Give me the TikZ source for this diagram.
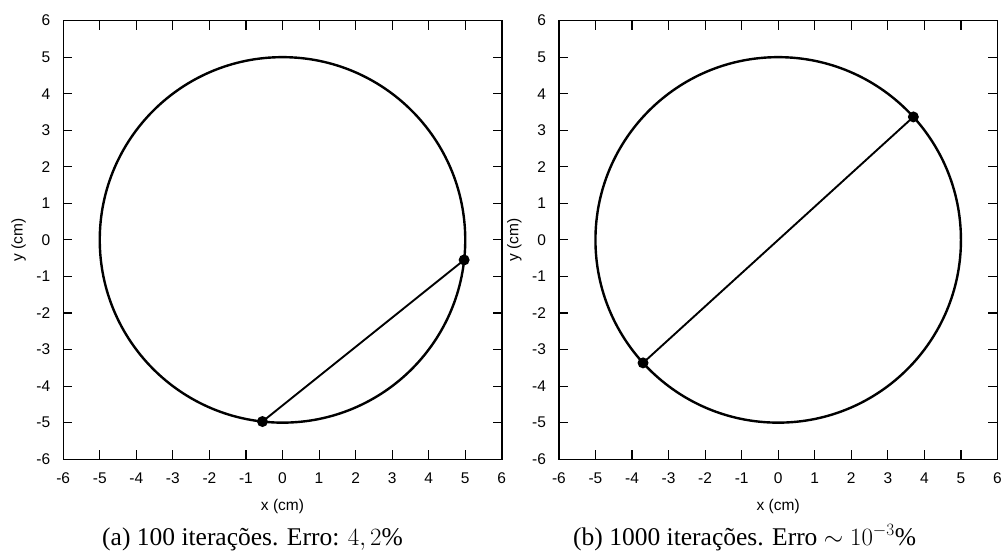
\documentclass[tikz,border=0pt]{standalone}
\usepackage{fontspec}
\setmainfont{Liberation Serif}
\setsansfont{Liberation Sans}
\begin{document}
\begin{tikzpicture}[x=1pt,y=-1pt,
  framebox/.style={line width=1.4pt},
  tickline/.style={line width=1.1pt},
  lbl/.style={font=\sffamily\fontsize{15.5}{18}\selectfont, inner sep=0pt},
  curveline/.style={line width=2.4pt},
  chordline/.style={line width=1.9pt},
  dotnode/.style={circle, fill=black, inner sep=0pt, minimum size=11pt},
  captext/.style={font=\rmfamily\fontsize{25.5}{30}\selectfont, inner sep=0pt}]
\useasboundingbox (0,0) rectangle (1002,556);
\newcommand\drawpanel[4]{%
\begin{scope}[shift={(#1,239.9)}, x=36.55pt, y=36.55pt]
  \draw[framebox] (-6,-6) rectangle (6,6);
  \foreach \v in {-6,...,6} {
    \draw[tickline] (\v,-6) -- ++(0,0.25);
    \draw[tickline] (\v,6) -- ++(0,-0.25);
    \draw[tickline] (-6,\v) -- ++(0.25,0);
    \draw[tickline] (6,\v) -- ++(-0.25,0);
    \node[lbl, anchor=east] at (-6.35,\v) {\v};
    \node[lbl] at (\v,-6.52) {\v};
  }
  \node[lbl] (#2xl) at (0,-7.3) {x (cm)};
  \node[lbl, rotate=90] (#2yl) at (-7.22,0) {y (cm)};
  \draw[curveline] (0,0) circle (5);
  \node[dotnode] (#2p) at (#3:5) {};
  \node[dotnode] (#2q) at (#4:5) {};
  \draw[chordline] (#2p.center) -- (#2q.center);
\end{scope}}
\drawpanel{282.5}{a}{-6.3}{-96.3}
\drawpanel{778.2}{b}{42.3}{222.3}
\node[captext, anchor=base west] (capa) at (102,545) {(a) 100 iterações. Erro: $4,2\%$};
\node[captext, anchor=base west] (capb) at (573,545) {(b) 1000 iterações. Erro $\sim 10^{-3}\%$};
\end{tikzpicture}
\end{document}
